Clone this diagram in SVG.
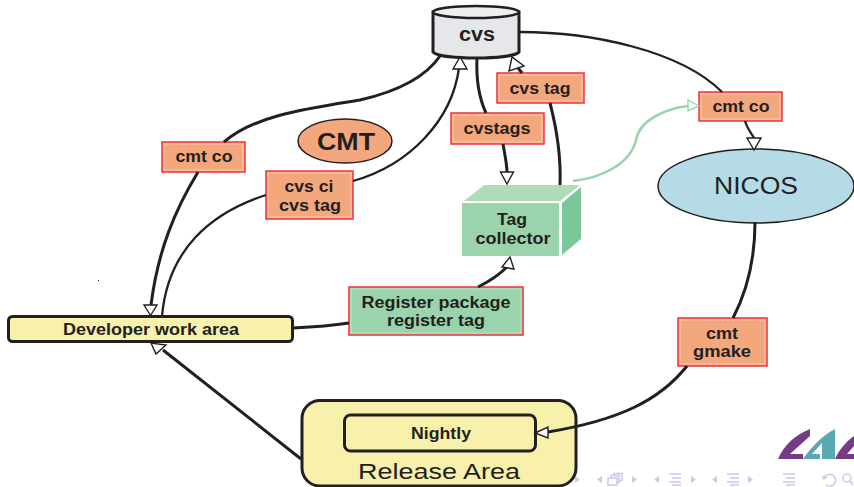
<svg xmlns="http://www.w3.org/2000/svg" width="854" height="487" viewBox="0 0 854 487">
<style>
text{font-family:"Liberation Sans",Arial,sans-serif;fill:#231f20;text-anchor:middle}
.b{font-weight:700;font-size:16px}
.lab{fill:#f3a77c;stroke:#ee3e47;stroke-width:1.6}
.in{fill:none;stroke:#f9d3bd;stroke-width:.8}
.c{fill:none;stroke:#231f20;stroke-width:3}
.t{stroke-width:2.3}
.h{fill:#fff;stroke:#231f20;stroke-width:1.4}
.n{fill:none;stroke:#c9c9ee;stroke-width:1.5}
.nf{fill:#c9c9ee}
</style>
<rect width="854" height="487" fill="#fff"/>
<g id="logo">
<path fill="#773b86" d="M778 459C784 445 795 435 810 429V436L790 454H803V459Z"/>
<path fill="#5aa8b2" d="M803 459C812 446 823 435 835 429V459H822V443L812 454H820V459Z"/>
<path fill="#773b86" d="M835 459C840 448 848 440 854 436V446L847 454H854V459Z"/>
</g>
<g id="nav">
<path class="nf" d="M575 476V483L580 479.500ZM602 476V483L597 479.500ZM632 476V483L637 479.500ZM659 476V483L654 479.500ZM691 476V483L696 479.500ZM717 476V483L712 479.500ZM748 476V483L753 479.500Z"/>
<path class="n" d="M608 478h9v7h-9zM611 478v-2.500h8v7h-2M614 475.500v-2h8v7h-3"/>
<path class="n" d="M669 474h12M672 478h9M669 482h12M672 485h9M727 474h12M730 478h9M727 482h12M730 485h9M783 474h12M786 478h9M783 482h12M786 485h9"/>
<path class="n" d="M826 485a6 6 0 1 0-2-7M822 476l2 3 3-2"/>
<circle class="n" cx="847" cy="478" r="4"/><path class="n" d="M850 481l3 4"/>
</g>
<path fill="#231f20" d="M98 280h1v1h-1z"/>
<g id="cvs">
<path d="M433 12V52C440 60 512 60 519 52V12Z" fill="#e6e7eb" stroke="#231f20" stroke-width="3"/>
<ellipse cx="476" cy="12" rx="43" ry="6" fill="#eeeff1" stroke="#231f20" stroke-width="2.500"/>
<text x="477" y="41" textLength="36" lengthAdjust="spacingAndGlyphs" style="font-weight:700;font-size:20px">cvs</text>
</g>
<g id="cmt-co-left"><rect class="lab" x="162" y="142" width="83" height="30"/><rect class="in" x="164" y="144" width="79" height="26"/><text class="b" x="204" y="162" textLength="57" lengthAdjust="spacingAndGlyphs">cmt co</text></g>
<g id="cmt"><ellipse cx="345" cy="141" rx="47" ry="22" fill="#f3a77c" stroke="#231f20" stroke-width="1.500"/><text x="346" y="150" textLength="58" lengthAdjust="spacingAndGlyphs" style="font-weight:700;font-size:24px">CMT</text></g>
<g id="cvs-ci"><rect class="lab" x="266" y="171" width="87" height="48"/><rect class="in" x="268" y="173" width="83" height="44"/><text class="b" x="309" y="192" textLength="49" lengthAdjust="spacingAndGlyphs">cvs ci</text><text class="b" x="310" y="211" textLength="62" lengthAdjust="spacingAndGlyphs">cvs tag</text></g>
<g id="cvstags"><rect class="lab" x="451" y="113" width="93" height="31"/><rect class="in" x="453" y="115" width="89" height="27"/><text class="b" x="497" y="134" textLength="67" lengthAdjust="spacingAndGlyphs">cvstags</text></g>
<g id="cvs-tag"><rect class="lab" x="497" y="73" width="87" height="30"/><rect class="in" x="499" y="75" width="83" height="26"/><text class="b" x="540" y="94" textLength="61" lengthAdjust="spacingAndGlyphs">cvs tag</text></g>
<g id="cmt-co-right"><rect class="lab" x="699" y="92" width="83" height="29"/><rect class="in" x="701" y="94" width="79" height="25"/><text class="b" x="741" y="112" textLength="57" lengthAdjust="spacingAndGlyphs">cmt co</text></g>
<g id="nicos"><ellipse cx="756" cy="186" rx="98" ry="37" fill="#b5dbe6" stroke="#231f20" stroke-width="1.500"/><text x="756" y="194" textLength="84" lengthAdjust="spacingAndGlyphs" style="font-size:23.500px">NICOS</text></g>
<g id="tag-collector">
<path d="M464 201L484 185H580L560 201Z" fill="#aedcb9"/>
<path d="M562 203L581 187V239L562 255Z" fill="#7cc79a"/>
<rect x="462" y="203" width="97" height="53" fill="#9ad3ac"/>
<text class="b" x="512" y="225" textLength="30" lengthAdjust="spacingAndGlyphs">Tag</text><text class="b" x="513" y="244" textLength="75" lengthAdjust="spacingAndGlyphs">collector</text>
</g>
<g id="register"><rect x="349" y="287" width="174" height="48" fill="#9ad3ac" stroke="#ee3e47" stroke-width="1.600"/><rect x="351" y="289" width="170" height="44" fill="none" stroke="#c8e6d0" stroke-width=".8"/><text class="b" x="436" y="308" textLength="149" lengthAdjust="spacingAndGlyphs">Register package</text><text class="b" x="436" y="326" textLength="98" lengthAdjust="spacingAndGlyphs">register tag</text></g>
<g id="cmt-gmake"><rect class="lab" x="678" y="318" width="89" height="48"/><rect class="in" x="680" y="320" width="85" height="44"/><text class="b" x="722" y="339" textLength="32" lengthAdjust="spacingAndGlyphs">cmt</text><text class="b" x="722" y="357" textLength="58" lengthAdjust="spacingAndGlyphs">gmake</text></g>
<g id="developer"><rect x="8.500" y="316.500" width="284" height="25" rx="4" fill="#f7f1ac" stroke="#231f20" stroke-width="3"/><text class="b" x="151" y="335" textLength="176" lengthAdjust="spacingAndGlyphs">Developer work area</text></g>
<g id="release"><rect x="302" y="400.500" width="274" height="85.500" rx="18" fill="#f7f1ac" stroke="#231f20" stroke-width="3"/><text x="439" y="479" textLength="162" lengthAdjust="spacingAndGlyphs" style="font-size:21.500px">Release Area</text></g>
<g id="nightly"><rect x="344.500" y="415" width="191" height="36" rx="6" fill="#f7f1ac" stroke="#231f20" stroke-width="3"/><text class="b" x="441" y="439" textLength="60" lengthAdjust="spacingAndGlyphs">Nightly</text></g>
<g id="connectors">
<path class="c" d="M440 56C425 78 395 92 360 100C310 108 255 115 224 142M198 172C175 210 158 250 151 305"/>
<path class="c t" d="M353 181C410 165 452 120 459 68M266 195C210 213 168 250 162 316"/>
<path class="c" d="M477 58C476 80 480 100 486 113M503 144C505 155 507 165 507 172"/>
<path class="c" d="M522 73L518 68M550 103C557 130 561 160 560 185"/>
<path class="c t" d="M520 32C590 32 680 50 722 92M745 121C747 128 751 133 754 138"/>
<path class="c" d="M293 328C315 327 330 326 349 323M478 287C490 281 500 274 507 267"/>
<path class="c" d="M755 222C755 265 745 295 733 318M687 366C660 400 620 420 548 432"/>
<path class="c" d="M301 459L163 350"/>
<path fill="none" stroke="#9ad3ac" stroke-width="2.600" d="M573 181C600 178 630 165 636 140C640 118 670 108 688 106"/>
<path class="h" d="M150.500 315.500L144 305H157Z"/>
<path class="h" d="M460 57L453 69H467Z"/>
<path class="h" d="M512 57L509 71L524 66Z"/>
<path class="h" d="M507 184L500.500 172H513.500Z"/>
<path class="h" d="M754 150L747 138H761Z"/>
<path class="h" d="M510 257L502 267L514 269Z"/>
<path class="h" d="M151 343L156 354L166 345Z"/>
<path class="h" d="M535 433L548 427V438Z"/>
<path d="M699 106L688 100V111Z" fill="#fff" stroke="#9ad3ac" stroke-width="1.400"/>
</g>
</svg>
